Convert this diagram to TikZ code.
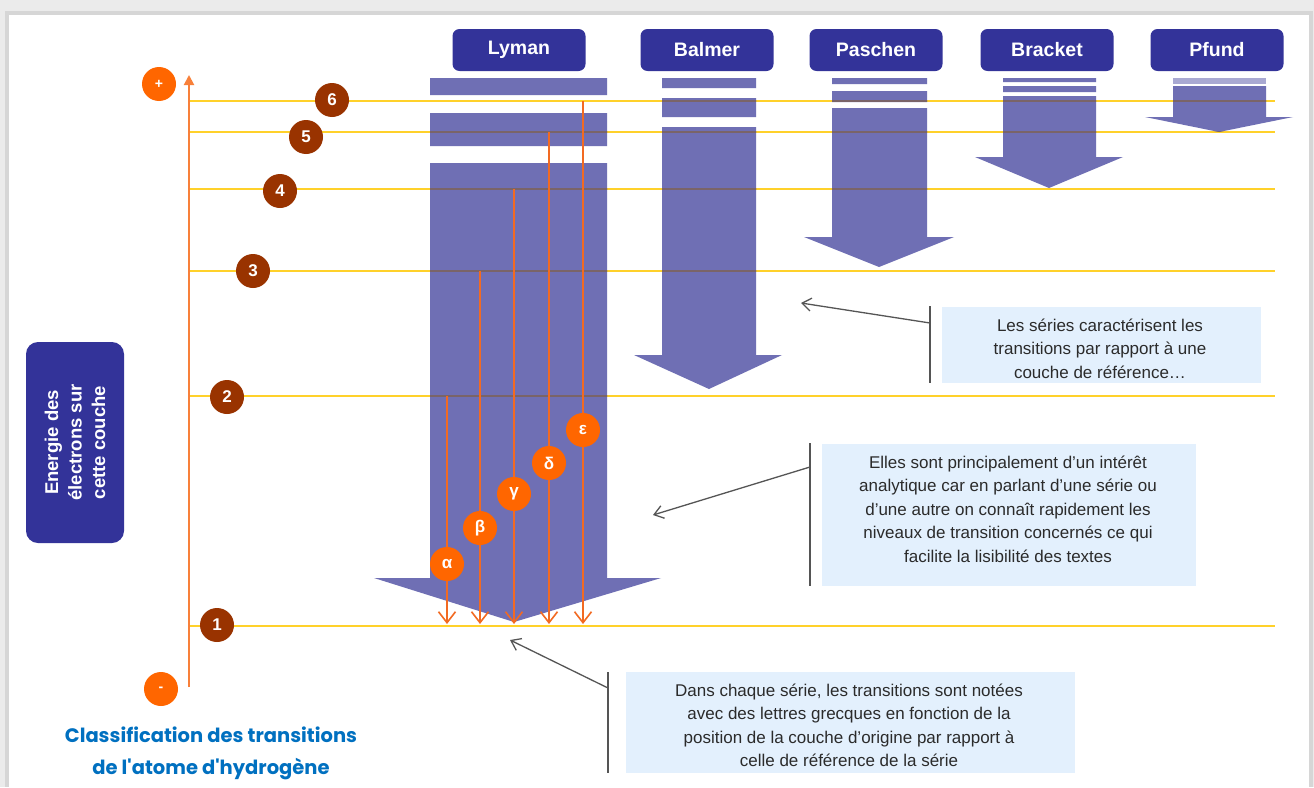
\documentclass[tikz,border=0pt]{standalone}
\usepackage{fontspec}
\setmainfont{Liberation Sans}
\newfontfamily\capfont{Poppins}
\usetikzlibrary{arrows.meta}
\definecolor{hdr}{HTML}{333399}
\definecolor{arr}{HTML}{6F6FB4}
\definecolor{lvl}{HTML}{FFD12A}
\definecolor{lvldark}{HTML}{7A6468}
\definecolor{org}{HTML}{FF6600}
\definecolor{orgline}{HTML}{F26A22}
\definecolor{axisc}{HTML}{F8803A}
\definecolor{brn}{HTML}{993300}
\definecolor{callbg}{HTML}{E3F0FD}
\definecolor{txt}{HTML}{2B2B2B}
\definecolor{capc}{HTML}{0070C0}
\definecolor{lead}{HTML}{555555}
\newcommand\pLyman{(430,78) rectangle (607,95) (430,113) rectangle (607,146) (430,163) -- (607,163) -- (607,578) -- (661,578) -- (514,622) -- (374,578) -- (430,578) -- cycle}
\newcommand\pBalmer{(662,78) rectangle (756,88) (662,98) rectangle (756,117) (662,127) -- (756,127) -- (756,355) -- (782,355) -- (709,389) -- (634,355) -- (662,355) -- cycle}
\newcommand\pPaschen{(832,78) rectangle (927,84) (832,91) rectangle (927,102) (832,108) -- (927,108) -- (927,237) -- (954,237) -- (879,267) -- (804,237) -- (832,237) -- cycle}
\newcommand\pBracket{(1003,78) rectangle (1096,82) (1003,86) rectangle (1096,92) (1003,96) -- (1096,96) -- (1096,157) -- (1123,157) -- (1049,188) -- (975,157) -- (1003,157) -- cycle}
\newcommand\pPfund{(1173,86) -- (1266,86) -- (1266,117) -- (1293,117) -- (1219,132) -- (1145,117) -- (1173,117) -- cycle}
\begin{document}
\begin{tikzpicture}[x=1pt,y=-1pt,
  header/.style={fill=hdr, rounded corners=7pt, minimum width=133pt, minimum height=42pt, inner sep=0pt, text=white, font=\fontsize{19.5}{22}\selectfont\bfseries},
  lvlnum/.style={circle, fill=brn, minimum size=34pt, inner sep=0pt, text=white, font=\fontsize{17}{17}\selectfont\bfseries},
  pm/.style={circle, fill=org, minimum size=34pt, inner sep=0pt, text=white, font=\fontsize{14}{14}\selectfont\bfseries},
  greek/.style={circle, fill=org, minimum size=34pt, inner sep=0pt, text=white, font=\fontsize{17}{17}\selectfont\bfseries},
  level/.style={draw=lvl, line width=2.5pt},
  leveldark/.style={draw=lvldark, line width=2.5pt},
  trans/.style={draw=orgline, line width=1.6pt, -{Straight Barb[length=11pt,width=17pt,line width=1.6pt]}},
  callout/.style={fill=callbg, inner sep=0pt},
  ctext/.style={text=txt, align=center, inner sep=0pt, font=\fontsize{17}{23.5}\selectfont},
  leader/.style={draw=lead, line width=1.3pt, -{Straight Barb[length=9pt,width=13pt,line width=1.3pt]}},
  bracketline/.style={draw=lead, line width=1.3pt}
]
\useasboundingbox (0,0) rectangle (1314,787);
% background panel
\fill[black!8] (0,0) rectangle (1314,787);
\fill[black!16] (5,11) rectangle (1313,787);
\fill[white] (9,15) rectangle (1309,787);

% energy levels
\foreach \n/\y in {6/101,5/132,4/189,3/271,2/396,1/626}{
  \coordinate (L\n a) at (190,\y);
  \coordinate (L\n b) at (1275,\y);
  \draw[level] (L\n a) -- (L\n b);
}

% series arrows
\fill[arr] \pLyman;
\fill[arr] \pBalmer;
\fill[arr] \pPaschen;
\fill[arr] \pBracket;
\fill[arr] \pPfund;
\fill[arr!60] (1173,78) rectangle (1266,84);
\begin{scope}
  \clip \pLyman \pBalmer \pPaschen \pBracket \pPfund;
  \foreach \n in {6,5,4,3,2}{
    \draw[leveldark] (L\n a) -- (L\n b);
  }
\end{scope}

% energy axis
\coordinate (axb) at (189,687);
\coordinate (axt) at (189,75);
\draw[axisc, line width=2pt, -{Triangle[length=10pt,width=10pt]}] (axb) -- (axt);
\node[pm] (plus) at (159,84) {+};
\node[pm] (minus) at (161,689) {-};

% level numbers
\node[lvlnum] (n6) at (332,100) {6};
\node[lvlnum] (n5) at (306,137) {5};
\node[lvlnum] (n4) at (280,191) {4};
\node[lvlnum] (n3) at (253,271) {3};
\node[lvlnum] (n2) at (227,397) {2};
\node[lvlnum] (n1) at (217,625) {1};

% Lyman transitions
\foreach \k/\x/\y in {a/447/396,b/480/271,g/514/189,d/549/132,e/583/101}{
  \coordinate (t\k s) at (\x,\y);
  \coordinate (t\k e) at (\x,624);
  \draw[trans] (t\k s) -- (t\k e);
}
\node[greek] (alpha) at (447,564) {α};
\node[greek] (beta) at (480,528) {β};
\node[greek] (gamma) at (514,494) {γ};
\node[greek] (delta) at (549,463) {δ};
\node[greek] (eps) at (583,430) {ε};

% series headers
\node[header] (lyman) at (519,50) {Lyman};
\node[header] (balmer) at (707,50) {Balmer};
\node[header] (paschen) at (876,50) {Paschen};
\node[header] (bracket) at (1047,50) {Bracket};
\node[header] (pfund) at (1217,50) {Pfund};

% side label
\node[fill=hdr, rounded corners=12pt, minimum width=201pt, minimum height=98pt, inner sep=0pt, rotate=90, text=white, align=center, font=\fontsize{18.5}{23.5}\selectfont\bfseries] (ylabel) at (75,442.5) {Energie des\\électrons sur\\cette couche};

% callout 1
\node[callout, minimum width=319pt, minimum height=76pt] (box1) at (1101.5,345) {};
\node[ctext] (txt1) at (1100,348.5) {Les séries caractérisent les\\transitions par rapport à une\\couche de référence…};
\coordinate (br1t) at (930,306);
\coordinate (br1b) at (930,383);
\coordinate (br1m) at (930,323);
\coordinate (tip1) at (801,303);
\draw[bracketline] (br1t) -- (br1b);
\draw[leader] (br1m) -- (tip1);

% callout 2
\node[callout, minimum width=374pt, minimum height=142pt] (box2) at (1009,514.5) {};
\node[ctext] (txt2) at (1008,509) {Elles sont principalement d’un intérêt\\analytique car en parlant d’une série ou\\d’une autre on connaît rapidement les\\niveaux de transition concernés ce qui\\facilite la lisibilité des textes};
\coordinate (br2t) at (810,443);
\coordinate (br2b) at (810,586);
\coordinate (br2m) at (810,467);
\coordinate (tip2) at (653,515);
\draw[bracketline] (br2t) -- (br2b);
\draw[leader] (br2m) -- (tip2);

% callout 3
\node[callout, minimum width=449pt, minimum height=101pt] (box3) at (850.5,722.5) {};
\node[ctext] (txt3) at (849,725.5) {Dans chaque série, les transitions sont notées\\avec des lettres grecques en fonction de la\\position de la couche d’origine par rapport à\\celle de référence de la série};
\coordinate (br3t) at (608,672);
\coordinate (br3b) at (608,773);
\coordinate (br3m) at (608,688);
\coordinate (tip3) at (510,640);
\draw[bracketline] (br3t) -- (br3b);
\draw[leader] (br3m) -- (tip3);

% caption
\node[text=capc, align=center, inner sep=0pt, font=\capfont\bfseries\fontsize{19.5}{32}\selectfont] (caption) at (211,753) {Classification des transitions\\de l'atome d'hydrogène};
\end{tikzpicture}
\end{document}
